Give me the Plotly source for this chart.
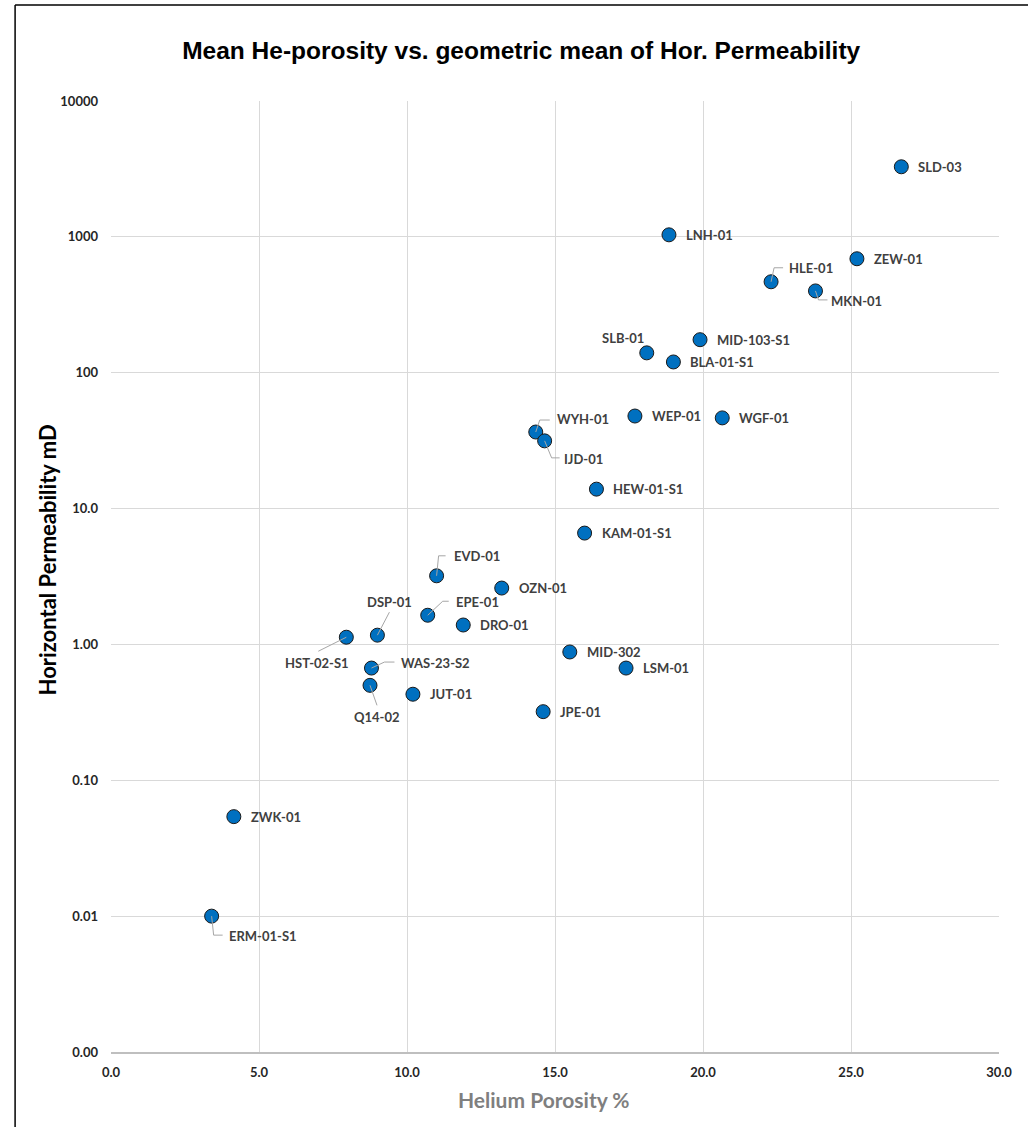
import numpy as np
import plotly.graph_objects as go

# Sample data: mean helium porosity (%) and geometric mean horizontal permeability (mD)
wells = ["SLD-03", "LNH-01", "ZEW-01", "HLE-01", "MKN-01", "MID-103-S1", "SLB-01",
         "BLA-01-S1", "WEP-01", "WGF-01", "WYH-01", "IJD-01", "HEW-01-S1", "KAM-01-S1",
         "EVD-01", "OZN-01", "EPE-01", "DRO-01", "DSP-01", "HST-02-S1", "MID-302",
         "WAS-23-S2", "LSM-01", "Q14-02", "JUT-01", "JPE-01", "ZWK-01", "ERM-01-S1"]
porosity = [26.7, 18.85, 25.2, 22.3, 23.8, 19.9, 18.1,
            19.0, 17.7, 20.65, 14.35, 14.65, 16.4, 16.0,
            11.0, 13.2, 10.7, 11.9, 9.0, 7.95, 15.5,
            8.8, 17.4, 8.75, 10.2, 14.6, 4.15, 3.4]
permeability = [3280, 1035, 690, 467, 400, 175, 140,
                120, 48, 46.5, 36.6, 31.5, 13.9, 6.6,
                3.2, 2.6, 1.64, 1.39, 1.17, 1.13, 0.88,
                0.67, 0.67, 0.50, 0.43, 0.32, 0.054, 0.010]

y_tickvals = [0.001, 0.01, 0.1, 1, 10, 100, 1000, 10000]
y_ticktext = ["0.00", "0.01", "0.10", "1.00", "10.0", "100", "1000", "10000"]
x_tickvals = [0, 5, 10, 15, 20, 25, 30]
x_ticktext = ["0.0", "5.0", "10.0", "15.0", "20.0", "25.0", "30.0"]

# Label placement (pixel offsets from marker, screen y down) and optional leader paths
label_style = {
    "SLB-01":    dict(dx=-24, dy=-15, anchor="center"),
    "HLE-01":    dict(dx=16, dy=-14, anchor="left", leader=[(0, 0), (3, -14), (12, -14)]),
    "MKN-01":    dict(dx=14, dy=10, anchor="left", leader=[(0, 0), (3, 9), (12, 9)]),
    "WYH-01":    dict(dx=19, dy=-13, anchor="left", leader=[(0, 0), (4, -12), (14, -12)]),
    "IJD-01":    dict(dx=17, dy=18, anchor="left", leader=[(0, 0), (7, 17), (15, 17)]),
    "EVD-01":    dict(dx=15, dy=-20, anchor="left", leader=[(0, 0), (2, -20), (9, -20)]),
    "EPE-01":    dict(dx=26, dy=-13, anchor="left", leader=[(0, 0), (15, -14), (21, -14)]),
    "DSP-01":    dict(dx=12, dy=-33, anchor="center", leader=[(0, 0), (12, -23)]),
    "HST-02-S1": dict(dx=-29, dy=26, anchor="center", leader=[(0, 0), (-28, 14)]),
    "WAS-23-S2": dict(dx=28, dy=-5, anchor="left", leader=[(0, 0), (13, -6), (23, -6)]),
    "Q14-02":    dict(dx=7, dy=32, anchor="center", leader=[(0, 0), (7, 20)]),
    "ERM-01-S1": dict(dx=15, dy=20, anchor="left", leader=[(0, 0), (2, 19), (11, 19)]),
}
default_style = dict(dx=15, dy=0, anchor="left")

label_font = dict(family="Lato", size=13, color="#404040", weight="bold")
tick_font = dict(family="Lato", size=13, color="#262626", weight="bold")

fig = go.Figure()
fig.add_trace(go.Scatter(
    x=porosity, y=permeability, mode="markers",
    marker=dict(size=14, color="#0070C0", line=dict(color="#1a1a1a", width=1)),
    hoverinfo="text", text=wells, showlegend=False,
))

annotations = []
shapes = []
for name, px, pk in zip(wells, porosity, permeability):
    st = label_style.get(name, default_style)
    annotations.append(dict(
        x=px, y=float(np.log10(pk)), xref="x", yref="y", text=name, showarrow=False,
        xanchor=st["anchor"], yanchor="middle", xshift=st["dx"], yshift=-st["dy"],
        font=label_font,
    ))
    if "leader" in st:
        pts = st["leader"]
        path = "M" + " L".join(f"{a},{-b}" for a, b in pts)
        shapes.append(dict(
            type="path", path=path, xref="x", yref="y",
            xsizemode="pixel", ysizemode="pixel", xanchor=px, yanchor=pk,
            line=dict(color="#a6a6a6", width=1), layer="above",
        ))

# Axis titles
annotations.append(dict(
    text="Horizontal Permeability mD", xref="paper", yref="paper",
    x=-0.072, y=0.517, textangle=-90, showarrow=False, xanchor="center", yanchor="middle",
    font=dict(family="Lato", size=22, color="#000000", weight="bold"),
))
annotations.append(dict(
    text="Helium Porosity %", xref="paper", yref="paper",
    x=0.488, y=-0.05, showarrow=False, xanchor="center", yanchor="middle",
    font=dict(family="Lato", size=21, color="#7f7f7f", weight="bold"),
))

# Outer frame lines (left and top)
shapes.append(dict(type="line", xref="paper", yref="paper", x0=-0.108, x1=-0.108,
                   y0=-0.08, y1=1.101, line=dict(color="#000000", width=1.5), layer="above"))
shapes.append(dict(type="line", xref="paper", yref="paper", x0=-0.108, x1=1.04,
                   y0=1.101, y1=1.101, line=dict(color="#000000", width=1.5), layer="above"))

fig.update_layout(
    width=1028, height=1127,
    margin=dict(l=111, r=29, t=101, b=75),
    paper_bgcolor="white", plot_bgcolor="white",
    title=dict(
        text="<b>Mean He-porosity vs. geometric mean of Hor. Permeability</b>",
        x=0.507, xref="container", xanchor="center",
        y=1 - 50 / 1127, yref="container", yanchor="middle",
        font=dict(family="Liberation Sans", size=24.5, color="#000000"),
    ),
    xaxis=dict(
        range=[0, 30], tickvals=x_tickvals, ticktext=x_ticktext,
        showgrid=True, gridcolor="#d9d9d9", gridwidth=1,
        zeroline=False, showline=True, linecolor="#bfbfbf", linewidth=1.5,
        tickfont=tick_font, ticks="", ticklabelstandoff=8,
    ),
    yaxis=dict(
        type="log", range=[-3, 4], tickvals=y_tickvals, ticktext=y_ticktext,
        showgrid=True, gridcolor="#d9d9d9", gridwidth=1,
        zeroline=False, showline=False,
        tickfont=tick_font, ticks="", ticklabelstandoff=12,
    ),
    annotations=annotations,
    shapes=shapes,
)

fig.write_html("out.html")
